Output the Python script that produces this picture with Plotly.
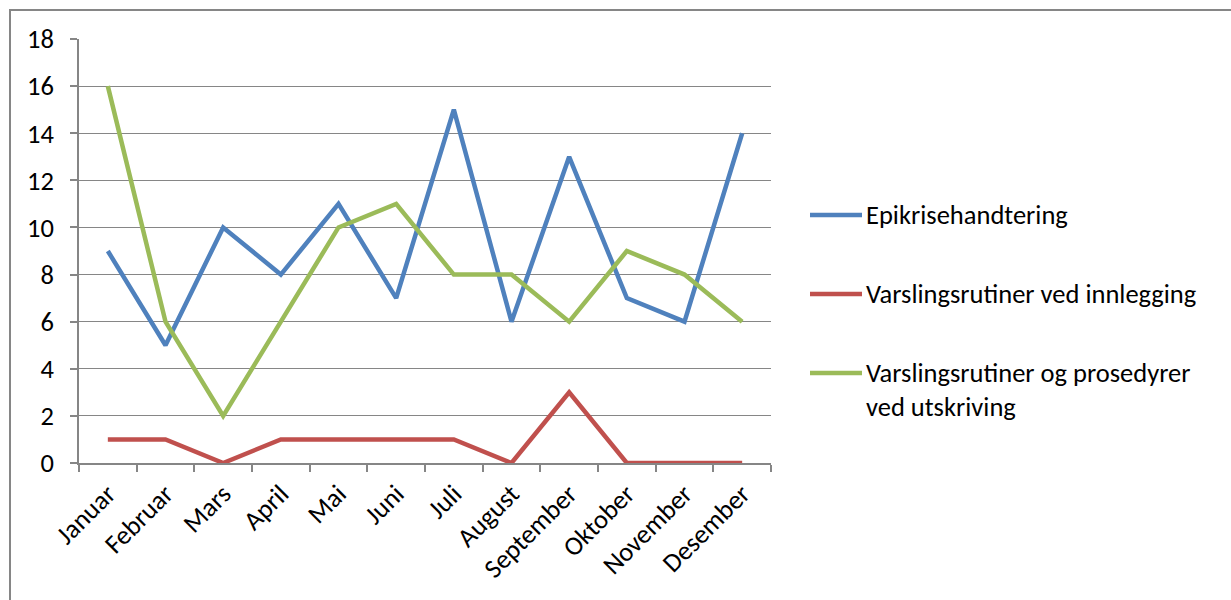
import plotly.graph_objects as go

# Monthly counts per category
months = ["Januar", "Februar", "Mars", "April", "Mai", "Juni", "Juli",
          "August", "September", "Oktober", "November", "Desember"]
epikrise = [9, 5, 10, 8, 11, 7, 15, 6, 13, 7, 6, 14]
innlegging = [1, 1, 0, 1, 1, 1, 1, 0, 3, 0, 0, 0]
utskriving = [16, 6, 2, 6, 10, 11, 8, 8, 6, 9, 8, 6]

series_names = ["Epikrisehandtering",
                "Varslingsrutiner ved innlegging",
                "Varslingsrutiner og prosedyrer<br>ved utskriving"]
series_values = [epikrise, innlegging, utskriving]
colors = ["#4F81BD", "#C0504D", "#9BBB59"]
y_ticks = [0, 2, 4, 6, 8, 10, 12, 14, 16, 18]

FONT = "Carlito, Calibri, Lato, sans-serif"
TXT = 26.5
W, H = 1231, 600
L, R, T, B = 79, 460, 39, 137
pw, ph = W - L - R, H - T - B

fig = go.Figure()
for name, vals, col in zip(series_names, series_values, colors):
    fig.add_trace(go.Scatter(
        x=months, y=vals, mode="lines", name=name,
        line=dict(color=col, width=4.5), showlegend=False,
    ))

# Legend drawn as line samples + labels at the right of the plot
legend_y_px = [215, 294, 373]
shapes = []
annotations = []
for (name, col, ypx) in zip(series_names, colors, legend_y_px):
    yp = 1 - (ypx - T) / ph
    x0 = (810 - L) / pw
    x1 = (862 - L) / pw
    shapes.append(dict(type="line", xref="paper", yref="paper",
                       x0=x0, x1=x1, y0=yp, y1=yp,
                       line=dict(color=col, width=4.5)))
    annotations.append(dict(xref="paper", yref="paper",
                            x=(864 - L) / pw, y=yp + 18 / ph,
                            xanchor="left", yanchor="top", align="left",
                            text=name, showarrow=False,
                            font=dict(family=FONT, size=TXT, color="#000000")))

# Outer chart frame
shapes.append(dict(type="rect", xref="paper", yref="paper",
                   x0=(10 - L) / pw, x1=(W + 5 - L) / pw,
                   y0=1 - (H + 5 - T) / ph, y1=1 + (T - 10) / ph,
                   line=dict(color="#868686", width=2), layer="below"))

fig.update_layout(
    width=W, height=H,
    margin=dict(l=L, r=R, t=T, b=B),
    paper_bgcolor="white", plot_bgcolor="white",
    font=dict(family=FONT, size=TXT, color="#000000"),
    shapes=shapes, annotations=annotations,
    showlegend=False,
)
fig.update_xaxes(
    type="category", range=[-0.5, 11.5],
    showline=True, linecolor="#868686", linewidth=1.5,
    ticks="outside", tickson="boundaries", ticklen=7, tickcolor="#868686",
    tickwidth=1.5, showgrid=False, tickangle=-45, ticklabelstandoff=3,
    tickfont=dict(family=FONT, size=TXT),
)
fig.update_yaxes(
    range=[0, 18], tickvals=y_ticks,
    showline=True, linecolor="#868686", linewidth=1.5,
    ticks="outside", ticklen=7, tickcolor="#868686", tickwidth=1.5,
    showgrid=True, gridcolor="#868686", gridwidth=1.2, zeroline=False,
    ticklabelstandoff=11,
    tickfont=dict(family=FONT, size=TXT),
)

fig.write_html("out.html")
